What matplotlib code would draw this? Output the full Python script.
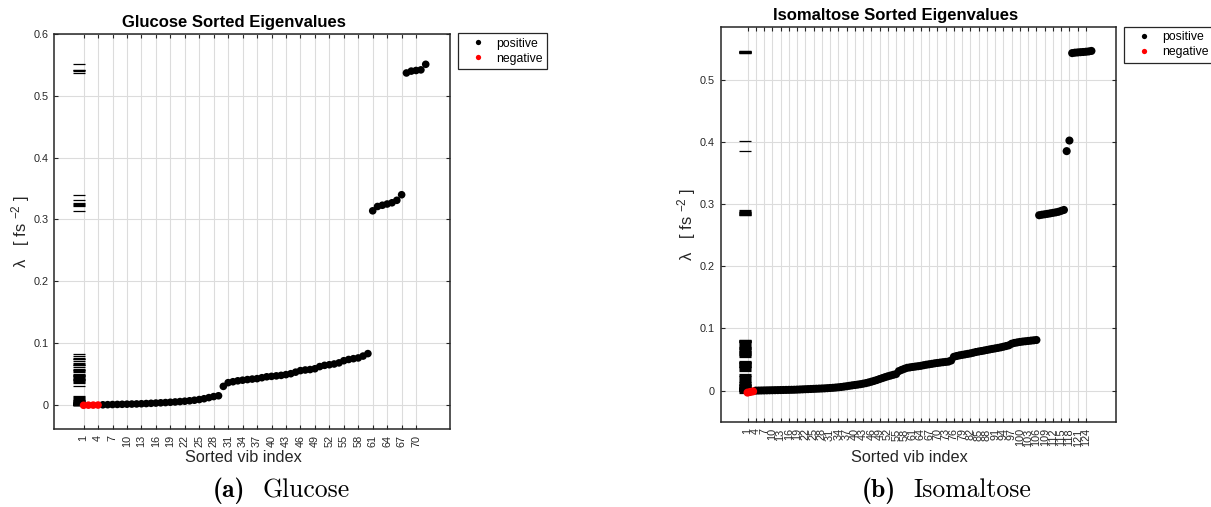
import numpy as np
import matplotlib
matplotlib.use("Agg")
import matplotlib.pyplot as plt
from matplotlib.lines import Line2D

plt.rcParams["font.family"] = ["Liberation Sans", "DejaVu Sans"]
plt.rcParams["mathtext.fontset"] = "custom"
plt.rcParams["mathtext.rm"] = "Liberation Sans"
plt.rcParams["mathtext.it"] = "Liberation Sans:italic"
plt.rcParams["mathtext.bf"] = "Liberation Sans:bold"

# ---- Glucose eigenvalues (fs^-2), sorted ----
glucose_negative = [-0.0006, -0.0004, -0.0003, -0.0002]
glucose_positive = [
    0.0002, 0.0004, 0.0006, 0.0008, 0.0010, 0.0012, 0.0014, 0.0016, 0.0019,
    0.0022, 0.0026, 0.0030, 0.0034, 0.0038, 0.0043, 0.0048, 0.0054, 0.0060,
    0.0067, 0.0076, 0.0087, 0.0100, 0.0118, 0.0135, 0.0148,
    0.0300, 0.0360, 0.0375, 0.0390, 0.0400, 0.0410, 0.0418, 0.0425, 0.0440,
    0.0455, 0.0462, 0.0470, 0.0478, 0.0490, 0.0505, 0.0530, 0.0555, 0.0565,
    0.0572, 0.0585, 0.0620, 0.0640, 0.0650, 0.0662, 0.0680, 0.0715, 0.0735,
    0.0748, 0.0760, 0.0790, 0.0830,
    0.314, 0.321, 0.323, 0.325, 0.327, 0.331, 0.340,
    0.537, 0.540, 0.541, 0.542, 0.551,
]

# ---- Isomaltose eigenvalues (fs^-2), sorted ----
isomaltose_negative = [-0.0030, -0.0020, -0.0010]
isomaltose_positive = [
    0.0002, 0.0003, 0.0004, 0.0005, 0.0006, 0.0007, 0.0008, 0.0009, 0.0010,
    0.0011, 0.0012, 0.0013, 0.0014, 0.0015, 0.0016, 0.0018, 0.0020,
    0.0022, 0.0024, 0.0026, 0.0028, 0.0030, 0.0032, 0.0034, 0.0036, 0.0038,
    0.0041, 0.0044, 0.0047, 0.0051, 0.0055,
    0.0060, 0.0066, 0.0072, 0.0079, 0.0086, 0.0092, 0.0098, 0.0105, 0.0113,
    0.0122, 0.0133, 0.0145,
    0.0158, 0.0172, 0.0188, 0.0203, 0.0218, 0.0232, 0.0244, 0.0256, 0.0268,
    0.0315, 0.0335, 0.0352, 0.0368, 0.0375, 0.0382, 0.0388, 0.0394, 0.0400,
    0.0410, 0.0418, 0.0425, 0.0432, 0.0440, 0.0446, 0.0452, 0.0458, 0.0463,
    0.0468, 0.0485,
    0.0545, 0.0558, 0.0568, 0.0576, 0.0584, 0.0592, 0.0600, 0.0610, 0.0622,
    0.0630, 0.0638, 0.0646, 0.0655, 0.0664, 0.0672, 0.0680, 0.0688, 0.0697,
    0.0707, 0.0718, 0.0730,
    0.0755, 0.0768, 0.0776, 0.0784, 0.0790, 0.0795, 0.0800, 0.0805, 0.0810,
    0.0815,
    0.2820, 0.2828, 0.2835, 0.2842, 0.2850, 0.2858, 0.2866, 0.2875, 0.2890,
    0.2905,
    0.385, 0.402,
    0.5425, 0.5432, 0.5436, 0.5440, 0.5443, 0.5447, 0.5452, 0.5460,
]

glucose_xticks = list(range(1, 73, 3))
isomaltose_xticks = list(range(1, 127, 3))
glucose_yticks = [0, 0.1, 0.2, 0.3, 0.4, 0.5, 0.6]
isomaltose_yticks = [0, 0.1, 0.2, 0.3, 0.4, 0.5]

AXIS_COLOR = "#262626"
GRID_COLOR = "#dcdcdc"


def eigen_panel(ax, neg, pos, xticks, yticks, xlim, ylim, title, title_x,
                dot_size):
    n_neg = len(neg)
    n_all = n_neg + len(pos)
    idx_neg = np.arange(1, n_neg + 1)
    idx_pos = np.arange(n_neg + 1, n_all + 1)
    all_vals = np.concatenate([neg, pos])

    # rug of every eigenvalue at x = 0
    ax.plot(np.zeros(n_all), all_vals, linestyle="none", marker="_",
            markersize=8, markeredgewidth=0.9, color="black", zorder=3)
    ax.scatter(idx_pos, pos, s=dot_size, color="black", edgecolors="none",
               zorder=4)
    ax.scatter(idx_neg, neg, s=dot_size, color="#ff0000", edgecolors="none",
               zorder=5)

    ax.set_xlim(*xlim)
    ax.set_ylim(*ylim)
    ax.set_xticks(xticks)
    ax.set_xticklabels([str(t) for t in xticks], rotation=90)
    ax.set_yticks(yticks)
    ax.set_yticklabels(["0" if v == 0 else f"{v:g}" for v in yticks])

    ax.grid(True, color=GRID_COLOR, linewidth=0.8)
    ax.set_axisbelow(True)
    ax.tick_params(axis="both", direction="in", length=3, width=0.8,
                   top=True, right=True, colors=AXIS_COLOR, labelsize=7.8)
    ax.tick_params(axis="x", pad=4.3)
    ax.tick_params(axis="y", pad=4.3)
    for sp in ax.spines.values():
        sp.set_color(AXIS_COLOR)
        sp.set_linewidth(1.1)

    ax.set_title(title, fontsize=12, fontweight="bold", x=title_x, pad=5,
                 color="black")
    ax.set_xlabel("Sorted vib index", fontsize=11.7, color=AXIS_COLOR)
    ax.set_ylabel("λ   [ fs $^{-2}$ ]", fontsize=12, color=AXIS_COLOR)
    ax.yaxis.set_label_coords(-0.058, 0.5)


fig = plt.figure(figsize=(12.11, 5.07), dpi=100)
ax1 = fig.add_axes([0.0450, 0.1538, 0.3266, 0.7791])
ax2 = fig.add_axes([0.5950, 0.1671, 0.3263, 0.7797])

eigen_panel(ax1, glucose_negative, glucose_positive, glucose_xticks,
            glucose_yticks, (-5.04, 77.04), (-0.039, 0.6),
            "Glucose Sorted Eigenvalues", 0.453, 30)
eigen_panel(ax2, isomaltose_negative, isomaltose_positive, isomaltose_xticks,
            isomaltose_yticks, (-8.82, 134.82), (-0.0507, 0.5845),
            "Isomaltose Sorted Eigenvalues", 0.442, 34)
ax1.xaxis.set_label_coords(0.477, -0.053)
ax2.xaxis.set_label_coords(0.479, -0.069)

handles = [
    Line2D([], [], linestyle="none", marker="o", markersize=3.8,
           color="black", markeredgewidth=0),
    Line2D([], [], linestyle="none", marker="o", markersize=3.8,
           color="#ff0000", markeredgewidth=0),
]
for anchor in [(458 / 1211, 1 - 33.3 / 507), (1124 / 1211, 1 - 27 / 507)]:
    leg = fig.legend(handles, ["positive", "negative"], loc="upper left",
                     bbox_to_anchor=anchor, bbox_transform=fig.transFigure,
                     borderaxespad=0, fontsize=8.8, frameon=True,
                     fancybox=False, framealpha=1, edgecolor=AXIS_COLOR,
                     borderpad=0.35, handlelength=2.5, handletextpad=0.25,
                     labelspacing=0.25)
    leg.get_frame().set_linewidth(0.9)

# sub-figure captions: bold label + roman name
caption_y = 1 - 497 / 507
for lab_x, lab, name_x, name in [(213, "(a)", 350, "Glucose"),
                                 (861.7, "(b)", 1031.7, "Isomaltose")]:
    fig.text(lab_x / 1211, caption_y, lab, family="cmb10", fontsize=18.5,
             ha="left", va="baseline")
    fig.text(name_x / 1211, caption_y, name, family="cmr10", fontsize=18.5,
             ha="right", va="baseline")

fig.savefig("out.png", dpi=100)
